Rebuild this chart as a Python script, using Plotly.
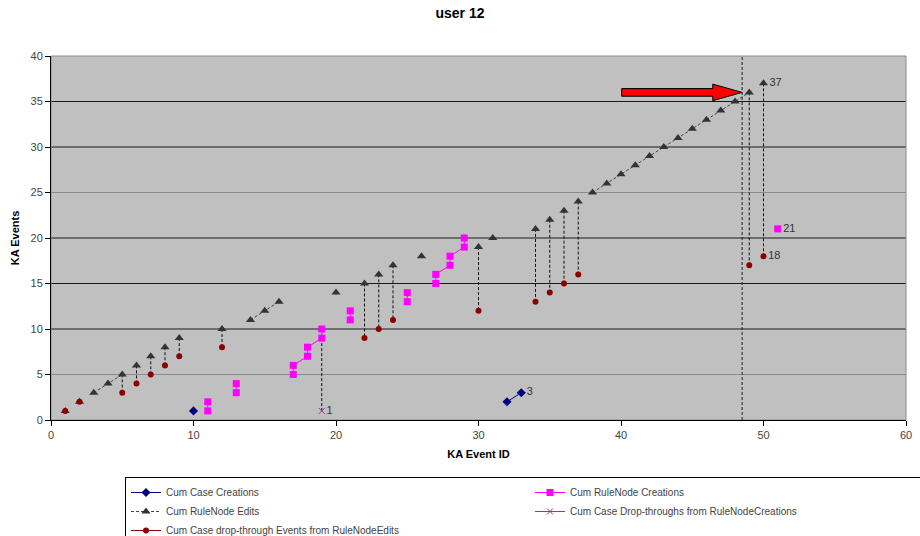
import plotly.graph_objects as go

# ---- data -------------------------------------------------------------
case_x = [10, 32, 33]
case_y = [1, 2, 3]

creations_x = [11, 11, 13, 13, 17, 17, 18, 18, 19, 19, 21, 21, 25, 25, 27, 27, 28, 28, 29, 29, 51]
creations_y = [1, 2, 3, 4, 5, 6, 7, 8, 9, 10, 11, 12, 13, 14, 15, 16, 17, 18, 19, 20, 21]

edits_x = [1, 2, 3, 4, 5, 6, 7, 8, 9, 12, 14, 15, 16, 20, 22, 23, 24, 26, 30, 31,
           34, 35, 36, 37, 38, 39, 40, 41, 42, 43, 44, 45, 46, 47, 48, 49, 50]
edits_y = [1, 2, 3, 4, 5, 6, 7, 8, 9, 10, 11, 12, 13, 14, 15, 16, 17, 18, 19, 20,
           21, 22, 23, 24, 25, 26, 27, 28, 29, 30, 31, 32, 33, 34, 35, 36, 37]

drop_create_x = [19]
drop_create_y = [1]

drop_edit_x = [1, 2, 5, 6, 7, 8, 9, 12, 22, 23, 24, 30, 34, 35, 36, 37, 49, 50]
drop_edit_y = [1, 2, 3, 4, 5, 6, 7, 8, 9, 10, 11, 12, 13, 14, 15, 16, 17, 18]

# event-id ranges inside which consecutive points are joined by a line
case_runs = [(32, 33)]
creations_runs = [(11, 11), (13, 13), (17, 19), (21, 21), (25, 25), (27, 29)]
edits_runs = [(3, 5), (14, 16), (38, 49)]
drop_edit_runs = []

marker_event = 48.5      # dashed vertical reference at this event id
arrow_tail = 40.05
arrow_neck = 46.44
arrow_level = 36

y_grid = [5, 10, 15, 20, 25, 30, 35, 40]
FONT = "Liberation Sans, Arial, sans-serif"


def gapped(xs, ys, runs, label_last=False):
    """Insert None breaks between points that are not in the same run."""
    ox, oy, tx = [], [], []
    for i, (x, y) in enumerate(zip(xs, ys)):
        if i > 0:
            px = xs[i - 1]
            if not any(a <= px and x <= b for a, b in runs):
                ox.append(None); oy.append(None); tx.append("")
        ox.append(x); oy.append(y)
        tx.append(str(y) if (label_last and i == len(xs) - 1) else "")
    return ox, oy, tx


fig = go.Figure()

# dashed drop lines from each edit to its drop-through count
ed = dict(zip(edits_x, edits_y))
cr_low = {}
for x, y in zip(creations_x, creations_y):
    cr_low.setdefault(x, y)
vx, vy = [], []
for x, y in zip(drop_edit_x, drop_edit_y):
    if x in ed and ed[x] != y:
        vx += [x, x, None]; vy += [ed[x], y, None]
for x, y in zip(drop_create_x, drop_create_y):
    if x in cr_low:
        vx += [x, x, None]; vy += [cr_low[x], y, None]
fig.add_trace(go.Scatter(x=vx, y=vy, mode="lines", showlegend=False, hoverinfo="skip",
                         line=dict(color="#111111", width=1, dash="3px,2px")))

label_font = dict(family=FONT, size=11, color="#333333")

x, y, t = gapped(case_x, case_y, case_runs, True)
fig.add_trace(go.Scatter(x=x, y=y, text=t, mode="lines+markers+text", textposition="middle right",
                         textfont=label_font, name="Cum Case Creations",
                         line=dict(color="#000080", width=1),
                         marker=dict(symbol="diamond", size=7, color="#000080")))

x, y, t = gapped(creations_x, creations_y, creations_runs, True)
fig.add_trace(go.Scatter(x=x, y=y, text=t, mode="lines+markers+text", textposition="middle right",
                         textfont=label_font, name="Cum RuleNode Creations",
                         line=dict(color="#FF00FF", width=1),
                         marker=dict(symbol="square", size=7, color="#FF00FF")))

x, y, t = gapped(edits_x, edits_y, edits_runs, True)
fig.add_trace(go.Scatter(x=x, y=y, text=t, mode="lines+markers+text", textposition="middle right",
                         textfont=label_font, name="Cum RuleNode Edits",
                         line=dict(color="#444444", width=1, dash="3px,2px"),
                         marker=dict(symbol="triangle-up", size=8, color="#333333")))

x, y, t = gapped(drop_create_x, drop_create_y, [], True)
fig.add_trace(go.Scatter(x=x, y=y, text=t, mode="lines+markers+text", textposition="middle right",
                         textfont=label_font, name="Cum Case Drop-throughs from RuleNodeCreations",
                         line=dict(color="#993399", width=1),
                         marker=dict(symbol="x-thin-open", size=6, color="#993399",
                                     line=dict(color="#993399", width=1))))

x, y, t = gapped(drop_edit_x, drop_edit_y, drop_edit_runs, True)
fig.add_trace(go.Scatter(x=x, y=y, text=t, mode="lines+markers+text", textposition="middle right",
                         textfont=label_font, name="Cum Case drop-through Events from RuleNodeEdits",
                         line=dict(color="#8B0000", width=1),
                         marker=dict(symbol="circle", size=6, color="#8B0000")))

shapes = []
# horizontal grid lines
for g in y_grid[:-1]:
    shapes.append(dict(type="line", xref="paper", yref="y", x0=0, x1=1, y0=g, y1=g, layer="below",
                       line=dict(color="#8a8a8a" if g in (5, 25) else "#1a1a1a", width=1)))
# plot-area frame (top/right)
shapes.append(dict(type="rect", xref="paper", yref="paper", x0=0, x1=1, y0=0, y1=1, layer="below",
                   line=dict(color="#8c8c8c", width=1)))
# dashed reference line
shapes.append(dict(type="line", xref="x", yref="paper", x0=marker_event, x1=marker_event, y0=0, y1=1,
                   line=dict(color="#222222", width=1, dash="3px,2px")))
# red arrow pointing at the highlighted edit
b, h = 0.42, 0.91
path = (f"M {arrow_tail} {arrow_level - b} L {arrow_neck} {arrow_level - b} "
        f"L {arrow_neck} {arrow_level - h} L {marker_event} {arrow_level} "
        f"L {arrow_neck} {arrow_level + h} L {arrow_neck} {arrow_level + b} "
        f"L {arrow_tail} {arrow_level + b} Z")
shapes.append(dict(type="path", xref="x", yref="y", path=path, fillcolor="#FF0000",
                   line=dict(color="#000000", width=1)))

fig.update_layout(
    width=920, height=536,
    margin=dict(l=51, r=14, t=56, b=116, autoexpand=False),
    paper_bgcolor="white", plot_bgcolor="#C0C0C0",
    font=dict(family=FONT, size=11, color="#444444"),
    title=dict(text="<b>user 12</b>", x=0.5, xanchor="center", y=1 - 13 / 536, yanchor="middle",
               yref="container", font=dict(family=FONT, size=14, color="#000000")),
    shapes=shapes,
    showlegend=True,
    legend=dict(orientation="h", x=(125 - 51) / 855, xanchor="left", y=(420 - 477) / 364, yanchor="top",
                entrywidth=359, entrywidthmode="pixels", itemwidth=30,
                bgcolor="white", bordercolor="#000000", borderwidth=1,
                font=dict(family=FONT, size=10, color="#444444"), traceorder="normal"),
    xaxis=dict(range=[0, 60], dtick=10, showgrid=False, zeroline=False,
               showline=True, linecolor="#000000", linewidth=1,
               ticks="outside", ticklen=5, tickcolor="#000000",
               title=dict(text="<b>KA Event ID</b>", standoff=10,
                          font=dict(family=FONT, size=11, color="#000000"))),
    yaxis=dict(range=[0, 40], dtick=5, showgrid=False, zeroline=False,
               showline=True, linecolor="#000000", linewidth=1,
               ticks="outside", ticklen=5, tickcolor="#000000",
               title=dict(text="<b>KA Events</b>", standoff=8,
                          font=dict(family=FONT, size=11, color="#000000"))),
)

fig.write_html("out.html")
